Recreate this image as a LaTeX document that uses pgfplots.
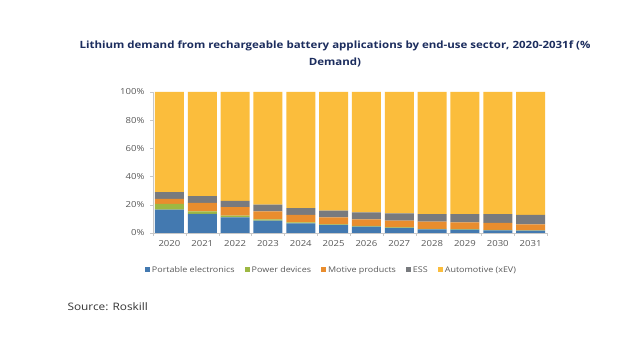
\documentclass[border=0pt]{standalone}
\usepackage{fontspec}
\setmainfont{Open Sans}[FakeStretch=1.15]
\usepackage{pgfplots}
\pgfplotsset{compat=1.18}
\definecolor{cblue}{HTML}{4379B0}
\definecolor{cgreen}{HTML}{9DB843}
\definecolor{corange}{HTML}{E98D2E}
\definecolor{cgray}{HTML}{787A7E}
\definecolor{cyellow}{HTML}{FBBD3C}
\definecolor{titlec}{HTML}{1C2D5E}
\definecolor{tickc}{HTML}{595959}
\definecolor{axc}{HTML}{C8C8C8}
\begin{document}
\begin{tikzpicture}
\fill[white] (0pt,0pt) rectangle (640pt,339pt);
\node[font=\bfseries\fontsize{10}{17}\selectfont, text=titlec, align=center] at (335pt,285.5pt)
  {Lithium demand from rechargeable battery applications by end-use sector, 2020-2031f (\%\\Demand)};
\node[anchor=west, font=\fontsize{10.3}{12}\selectfont, text=black!80] at (64pt,32pt) {Source: Roskill};
\begin{axis}[
  at={(153pt,106pt)}, anchor=south west,
  width=394pt, height=141pt, scale only axis,
  ybar stacked, bar width=29pt,
  xmin=-0.5, xmax=11.5, ymin=0, ymax=100,
  xtick={0,...,11},
  xticklabels={2020,2021,2022,2023,2024,2025,2026,2027,2028,2029,2030,2031},
  minor xtick={-0.5,0.5,...,11.5},
  ytick={0,20,40,60,80,100},
  yticklabel={\pgfmathprintnumber{\tick}\%},
  /pgf/number format/assume math mode=true,
  ticklabel style={font=\fontsize{8.3}{10}\selectfont, text=tickc},
  axis x line*=bottom, axis y line*=left,
  axis line style={axc},
  major x tick style={draw=none},
  minor x tick style={axc},
  y tick style={axc},
  tick align=outside,
  major tick length=3pt,
  minor tick length=3pt,
  yticklabel style={xshift=-2pt},
  xticklabel style={yshift=-1pt},
  legend columns=5,
  legend style={at={(0.453,-0.262)}, anchor=center, draw=none, fill=none,
    font=\fontsize{7.8}{9}\selectfont, text=tickc,
    /tikz/every even column/.append style={column sep=8pt}},
  legend image code/.code={\fill[#1] (0pt,-2.5pt) rectangle (5pt,2.5pt);},
]
\addplot[fill=cblue, draw=none] coordinates {(0,16.6) (1,13.6) (2,11.1) (3,8.8) (4,6.9) (5,5.7) (6,4.5) (7,3.6) (8,2.6) (9,2.4) (10,1.9) (11,1.6)};
\addplot[fill=cgreen, draw=none] coordinates {(0,4.0) (1,1.8) (2,1.3) (3,0.9) (4,0.7) (5,0.5) (6,0.5) (7,0.4) (8,0.4) (9,0.3) (10,0.3) (11,0.3)};
\addplot[fill=corange, draw=none] coordinates {(0,3.6) (1,6.0) (2,5.9) (3,5.7) (4,5.3) (5,4.9) (6,4.7) (7,4.8) (8,5.1) (9,4.9) (10,4.9) (11,4.3)};
\addplot[fill=cgray, draw=none] coordinates {(0,4.7) (1,4.7) (2,4.5) (3,4.8) (4,4.7) (5,4.8) (6,5.0) (7,5.2) (8,5.2) (9,5.7) (10,6.2) (11,6.7)};
\addplot[fill=cyellow, draw=none] coordinates {(0,71.1) (1,73.9) (2,77.2) (3,79.8) (4,82.4) (5,84.1) (6,85.3) (7,86.0) (8,86.7) (9,86.7) (10,86.7) (11,87.1)};
\legend{Portable electronics, Power devices, Motive products, ESS, Automotive (xEV)}
\end{axis}
\end{tikzpicture}
\end{document}
